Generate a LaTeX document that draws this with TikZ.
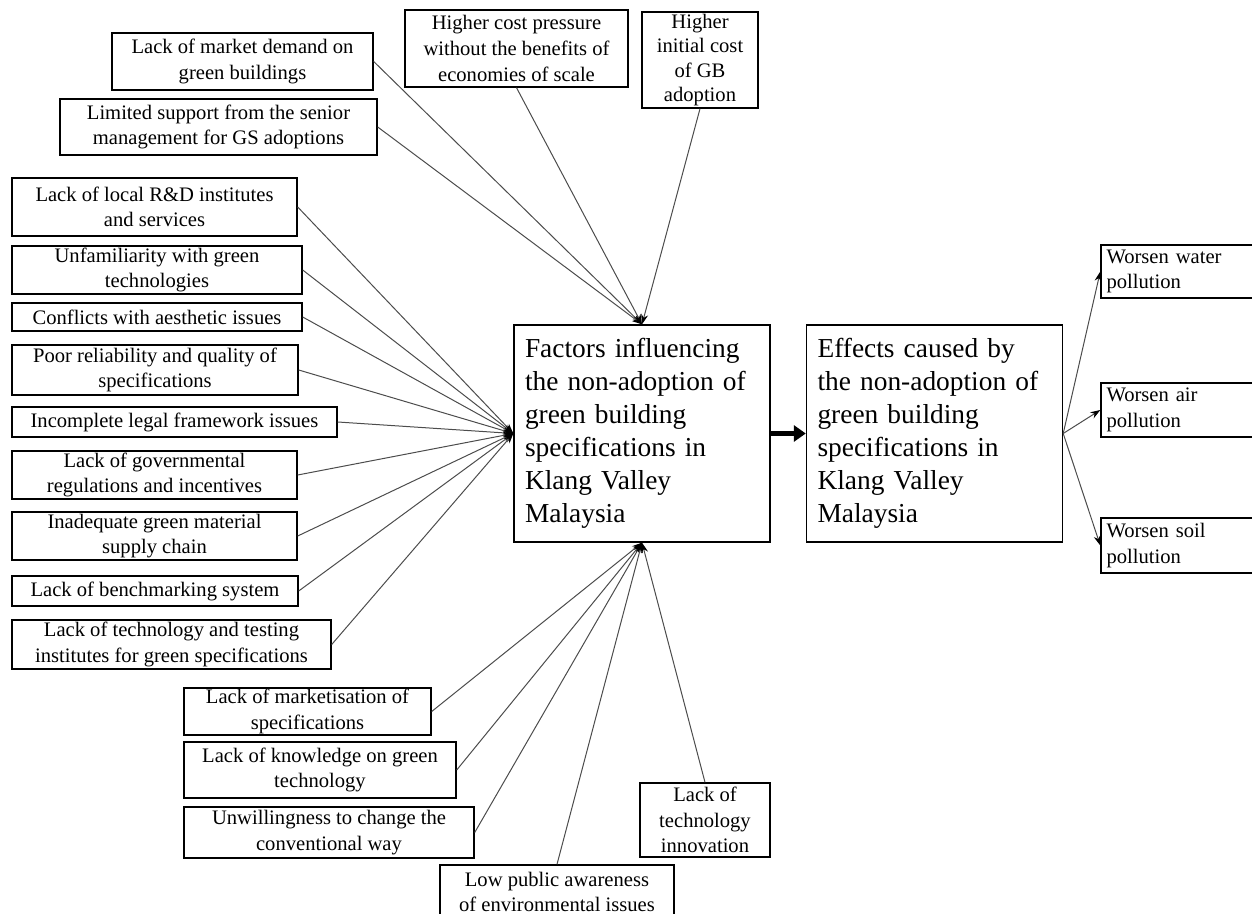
\documentclass[tikz,border=0pt]{standalone}
\usepackage{fontspec}
\setmainfont{Liberation Serif}
\usetikzlibrary{arrows.meta}

\begin{document}
\begin{tikzpicture} [x = 0.5pt, y = -0.5pt,
  factor/.style = {draw, line width = 0.7pt, align = center, inner sep = 0pt, font = \fontsize{10.3}{12.8}\selectfont},
  effect/.style = {draw, line width = 0.7pt, align = left, inner xsep = 2.75pt, inner ysep = 0pt, text width = 75pt, font = \fontsize{10.3}{12.8}\selectfont},
  mainbox/.style = {draw, line width = 0.7pt, align = left, inner xsep = 5.5pt, inner ysep = 0pt, text width = 117pt, minimum height = 108.5pt, font = \fontsize{13.7}{16.5}\selectfont},
  link/.style = {black!70, line width = 0.5pt, -{Stealth[length = 5pt, width = 3.5pt, black]}}]
\useasboundingbox (0, 0) rectangle (1252, 914);
\node[mainbox] (f) at (642, 433.5){Factors influencing\\the non-adoption of\\green building\\specifications in\\Klang Valley\\Malaysia};
\node[mainbox] (e) at (934.5, 433.5){Effects caused by\\the non-adoption of\\green building\\specifications in\\Klang Valley\\Malaysia};
\node[factor, minimum width = 130.5pt, minimum height = 28.5pt] (demand) at (242.5, 61.5){Lack of market demand on\\green buildings};
\node[factor, minimum width = 158.5pt, minimum height = 28pt] (support) at (218.5, 127){Limited support from the senior\\management for GS adoptions};
\node[factor, minimum width = 111.5pt, minimum height = 38.5pt] (pressure) at (516.5, 48.5){Higher cost pressure\\without the benefits of\\economies of scale};
\node[factor, minimum width = 58pt, minimum height = 48pt, font = \fontsize{10.3}{12.3}\selectfont] (initial) at (700, 60){Higher\\initial cost\\of GB\\adoption};
\node[factor, minimum width = 142.5pt, minimum height = 29pt] (rd) at (154.5, 207){Lack of local R\&D institutes\\and services};
\node[factor, minimum width = 145pt, minimum height = 24pt] (unfamiliar) at (157, 270){Unfamiliarity with green\\technologies};
\node[factor, minimum width = 145pt, minimum height = 14pt] (aesthetic) at (157, 317){Conflicts with aesthetic issues};
\node[factor, minimum width = 143pt, minimum height = 25pt] (reliability) at (155, 370){Poor reliability and quality of\\specifications};
\node[factor, minimum width = 162.5pt, minimum height = 15pt] (legal) at (174.5, 422){Incomplete legal framework issues};
\node[factor, minimum width = 142.5pt, minimum height = 24pt] (govern) at (154.5, 475){Lack of governmental\\regulations and incentives};
\node[factor, minimum width = 142.5pt, minimum height = 24pt] (supply) at (154.5, 536){Inadequate green material\\supply chain};
\node[factor, minimum width = 143pt, minimum height = 15pt] (bench) at (155, 591){Lack of benchmarking system};
\node[factor, minimum width = 159.5pt, minimum height = 24.5pt] (testing) at (171.5, 644.5){Lack of technology and testing\\institutes for green specifications};
\node[factor, minimum width = 123.5pt, minimum height = 23.5pt] (market) at (307.5, 711.5){Lack of marketisation of\\specifications};
\node[factor, minimum width = 136pt, minimum height = 28pt] (knowledge) at (320, 770){Lack of knowledge on green\\technology};
\node[factor, minimum width = 145pt, minimum height = 25.5pt] (unwilling) at (329, 832.5){Unwillingness to change the\\conventional way};
\node[factor, minimum width = 117pt, minimum height = 27pt] (awareness) at (557, 892){Low public awareness\\of environmental issues};
\node[factor, minimum width = 65pt, minimum height = 37pt] (innovation) at (705, 820){Lack of\\technology\\innovation};
\node[effect, minimum height = 26.5pt] (water) at (1181.5, 271.5){Worsen water\\pollution};
\node[effect, minimum height = 27pt] (air) at (1181.5, 410){Worsen air\\pollution};
\node[effect, minimum height = 27.5pt] (soil) at (1181.5, 545.5){Worsen soil\\pollution};
\draw[link] (demand.east) -- (f.north);
\draw[link] (support.east) -- (f.north);
\draw[link] (pressure.south) -- (f.north);
\draw[link] (initial.south) -- (f.north);
\foreach \src in {rd, unfamiliar, aesthetic, reliability, legal, govern, supply, bench, testing}
  \draw[link] (\src.east) -- (f.west);
\foreach \src in {market, knowledge, unwilling}
  \draw[link] (\src.east) -- (f.south);
\draw[link] (awareness.north) -- (f.south);
\draw[link] (innovation.north) -- (f.south);
\draw[line width = 2.5pt, -{Triangle[length = 6pt, width = 8pt]}] (f.east) -- (e.west);
\foreach \dst in {water, air, soil}
  \draw[link] (e.east) -- (\dst.west);
\end{tikzpicture}
\end{document}
